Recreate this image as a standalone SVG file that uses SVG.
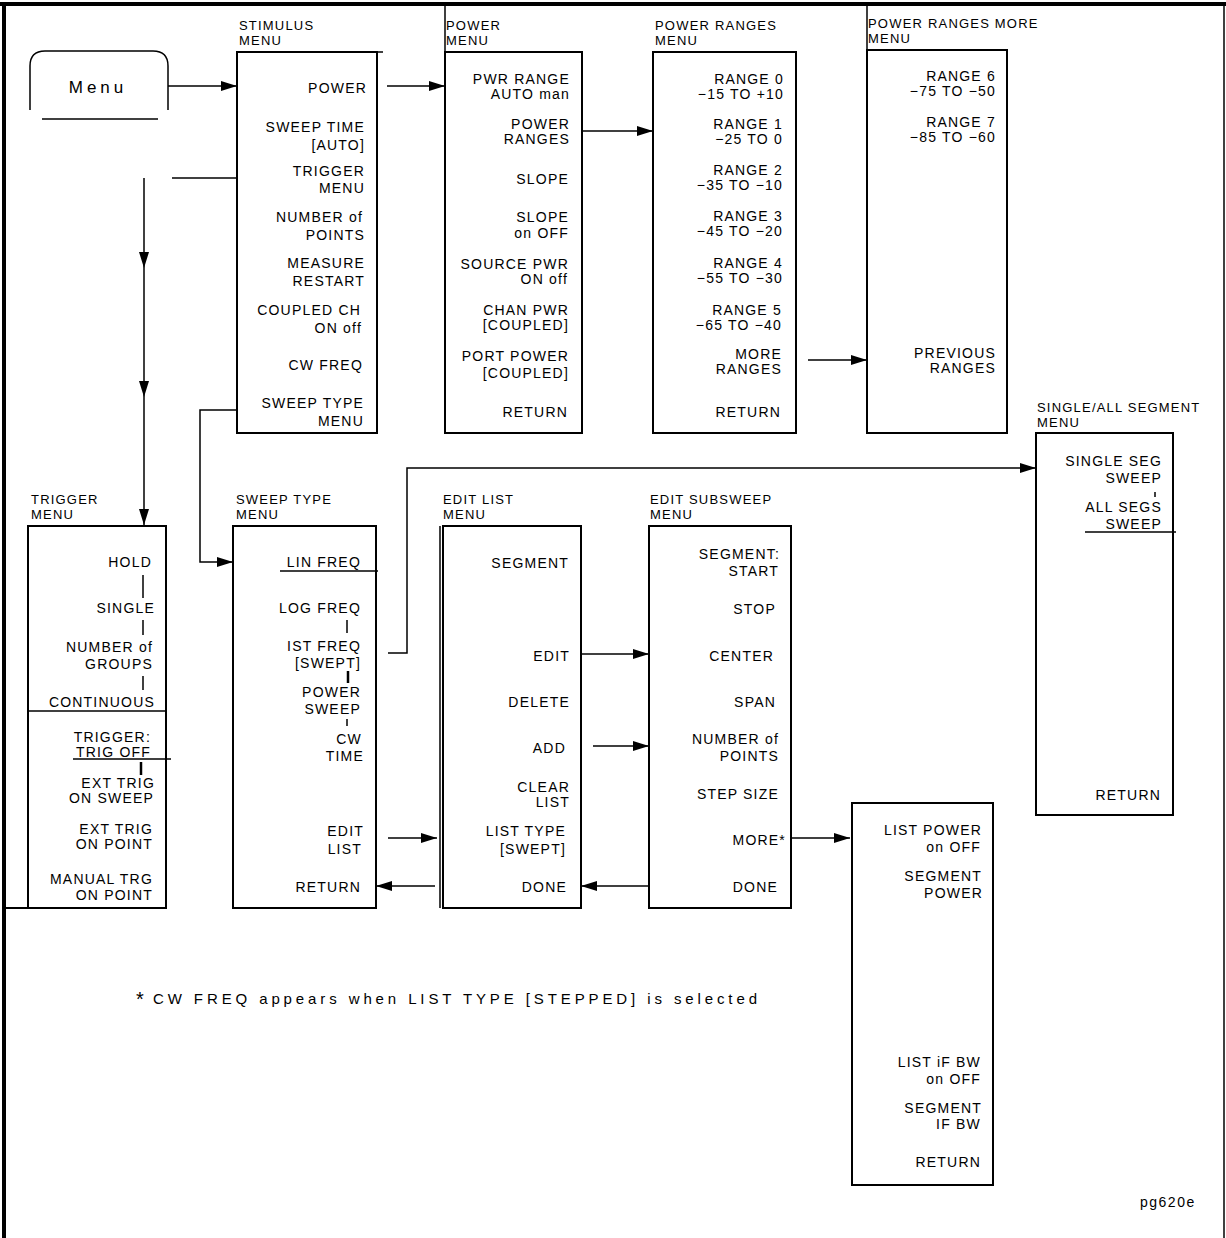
<svg xmlns="http://www.w3.org/2000/svg" width="1226" height="1238" viewBox="0 0 1226 1238">
<style>
.t{font-family:"Liberation Sans",Arial,sans-serif;font-size:14px;letter-spacing:1.2px;text-anchor:end;fill:#000}
.h{font-family:"Liberation Sans",Arial,sans-serif;font-size:13px;letter-spacing:1.2px;fill:#000}
.box{fill:none;stroke:#000;stroke-width:2}
.ln{fill:none;stroke:#000;stroke-width:1.5}
.c{fill:none;stroke:#000;stroke-width:1.5}
.ca{fill:none;stroke:#000;stroke-width:1.5;marker-end:url(#ah)}
</style>
<defs>
<marker id="ah" viewBox="0 0 16 10" refX="16" refY="5" markerWidth="16" markerHeight="10" markerUnits="userSpaceOnUse" orient="auto">
<path d="M0,0 L16,5 L0,10 z" fill="#000"/>
</marker>
</defs>
<rect width="1226" height="1238" fill="#fff"/>
<g id="frame">
<line x1="0" y1="4" x2="1226" y2="4" stroke="#000" stroke-width="4"/>
<line x1="4" y1="2" x2="4" y2="1238" stroke="#000" stroke-width="4"/>
<line x1="1224" y1="4" x2="1224" y2="1238" stroke="#000" stroke-width="1.5"/>
</g>
<g id="menu-key">
<path class="ln" d="M30,110 V66 Q30,51 45,51 H153 Q168,51 168,66 V110"/>
<line class="ln" x1="42" y1="119" x2="158" y2="119"/>
<text x="98" y="93" style="font-family:'Liberation Sans',Arial,sans-serif;font-size:17px;letter-spacing:4px;text-anchor:middle">Menu</text>
</g>
<g id="stimulus-menu">
<text class="h" x="239" y="30">STIMULUS</text>
<text class="h" x="239" y="45">MENU</text>
<rect class="box" x="237" y="52" width="140" height="381"/>
<line class="ln" x1="377" y1="52" x2="383" y2="52"/>
<text class="t" x="367" y="93">POWER</text>
<text class="t" x="365" y="132">SWEEP TIME</text>
<text class="t" x="365" y="150">[AUTO]</text>
<text class="t" x="365" y="176">TRIGGER</text>
<text class="t" x="365" y="193">MENU</text>
<text class="t" x="363" y="222">NUMBER of</text>
<text class="t" x="365" y="240">POINTS</text>
<text class="t" x="365" y="268">MEASURE</text>
<text class="t" x="365" y="286">RESTART</text>
<text class="t" x="361" y="315">COUPLED CH</text>
<text class="t" x="362" y="333">ON off</text>
<text class="t" x="363" y="370">CW FREQ</text>
<text class="t" x="364" y="408">SWEEP TYPE</text>
<text class="t" x="364" y="426">MENU</text>
</g>
<g id="power-menu">
<line class="ln" x1="445" y1="4" x2="445" y2="52"/>
<text class="h" x="446" y="30">POWER</text>
<text class="h" x="446" y="45">MENU</text>
<rect class="box" x="445" y="52" width="137" height="381"/>
<text class="t" x="570" y="84">PWR RANGE</text>
<text class="t" x="570" y="99">AUTO man</text>
<text class="t" x="570" y="129">POWER</text>
<text class="t" x="570" y="144">RANGES</text>
<text class="t" x="569" y="184">SLOPE</text>
<text class="t" x="569" y="222">SLOPE</text>
<text class="t" x="569" y="238">on OFF</text>
<text class="t" x="569" y="269">SOURCE PWR</text>
<text class="t" x="568" y="284">ON off</text>
<text class="t" x="569" y="315">CHAN PWR</text>
<text class="t" x="569" y="330">[COUPLED]</text>
<text class="t" x="569" y="361">PORT POWER</text>
<text class="t" x="569" y="378">[COUPLED]</text>
<text class="t" x="568" y="417">RETURN</text>
</g>
<g id="power-ranges-menu">
<text class="h" x="655" y="30">POWER RANGES</text>
<text class="h" x="655" y="45">MENU</text>
<rect class="box" x="653" y="52" width="143" height="381"/>
<text class="t" x="784" y="84">RANGE 0</text>
<text class="t" x="784" y="99">−15 TO +10</text>
<text class="t" x="783" y="129">RANGE 1</text>
<text class="t" x="783" y="144">−25 TO 0</text>
<text class="t" x="783" y="175">RANGE 2</text>
<text class="t" x="783" y="190">−35 TO −10</text>
<text class="t" x="783" y="221">RANGE 3</text>
<text class="t" x="783" y="236">−45 TO −20</text>
<text class="t" x="783" y="268">RANGE 4</text>
<text class="t" x="783" y="283">−55 TO −30</text>
<text class="t" x="782" y="315">RANGE 5</text>
<text class="t" x="782" y="330">−65 TO −40</text>
<text class="t" x="782" y="359">MORE</text>
<text class="t" x="782" y="374">RANGES</text>
<text class="t" x="781" y="417">RETURN</text>
</g>
<g id="power-ranges-more-menu">
<line class="ln" x1="867" y1="4" x2="867" y2="50"/>
<text class="h" x="868" y="28">POWER RANGES MORE</text>
<text class="h" x="868" y="43">MENU</text>
<rect class="box" x="867" y="50" width="140" height="383"/>
<text class="t" x="996" y="81">RANGE 6</text>
<text class="t" x="996" y="96">−75 TO −50</text>
<text class="t" x="996" y="127">RANGE 7</text>
<text class="t" x="996" y="142">−85 TO −60</text>
<text class="t" x="996" y="358">PREVIOUS</text>
<text class="t" x="996" y="373">RANGES</text>
</g>
<g id="single-all-segment-menu">
<text class="h" x="1037" y="412">SINGLE/ALL SEGMENT</text>
<text class="h" x="1037" y="427">MENU</text>
<rect class="box" x="1036" y="433" width="137" height="382"/>
<text class="t" x="1162" y="466">SINGLE SEG</text>
<text class="t" x="1162" y="483">SWEEP</text>
<line class="ln" x1="1155" y1="492" x2="1155" y2="497"/>
<text class="t" x="1162" y="512">ALL SEGS</text>
<text class="t" x="1162" y="529">SWEEP</text>
<line class="ln" x1="1085" y1="532" x2="1176" y2="532"/>
<text class="t" x="1161" y="800">RETURN</text>
</g>
<g id="trigger-menu">
<text class="h" x="31" y="504">TRIGGER</text>
<text class="h" x="31" y="519">MENU</text>
<rect class="box" x="28" y="526" width="138" height="382"/>
<line class="box" x1="4" y1="908" x2="28" y2="908"/>
<line class="ln" x1="28" y1="711" x2="167" y2="711"/>
<text class="t" x="152" y="567">HOLD</text>
<line class="ln" x1="143" y1="575" x2="143" y2="598"/>
<text class="t" x="155" y="613">SINGLE</text>
<line class="ln" x1="143" y1="620" x2="143" y2="635"/>
<text class="t" x="153" y="652">NUMBER of</text>
<text class="t" x="153" y="669">GROUPS</text>
<line class="ln" x1="143" y1="676" x2="143" y2="690"/>
<text class="t" x="155" y="707">CONTINUOUS</text>
<text class="t" x="151" y="742">TRIGGER:</text>
<text class="t" x="151" y="757">TRIG OFF</text>
<line class="ln" x1="73" y1="759" x2="171" y2="759"/>
<line x1="141" y1="762" x2="141" y2="775" stroke="#000" stroke-width="2.5"/>
<text class="t" x="155" y="788">EXT TRIG</text>
<text class="t" x="154" y="803">ON SWEEP</text>
<text class="t" x="153" y="834">EXT TRIG</text>
<text class="t" x="153" y="849">ON POINT</text>
<text class="t" x="153" y="884">MANUAL TRG</text>
<text class="t" x="153" y="900">ON POINT</text>
</g>
<g id="sweep-type-menu">
<text class="h" x="236" y="504">SWEEP TYPE</text>
<text class="h" x="236" y="519">MENU</text>
<rect class="box" x="233" y="526" width="143" height="382"/>
<text class="t" x="361" y="567">LIN FREQ</text>
<line class="ln" x1="280" y1="571" x2="378" y2="571"/>
<text class="t" x="361" y="613">LOG FREQ</text>
<line class="ln" x1="347" y1="620" x2="347" y2="633"/>
<text class="t" x="361" y="651">IST FREQ</text>
<text class="t" x="361" y="668">[SWEPT]</text>
<line x1="348" y1="671" x2="348" y2="683" stroke="#000" stroke-width="2.5"/>
<text class="t" x="361" y="697">POWER</text>
<text class="t" x="361" y="714">SWEEP</text>
<line class="ln" x1="347" y1="719" x2="347" y2="726"/>
<text class="t" x="362" y="744">CW</text>
<text class="t" x="364" y="761">TIME</text>
<text class="t" x="364" y="836">EDIT</text>
<text class="t" x="362" y="854">LIST</text>
<text class="t" x="361" y="892">RETURN</text>
</g>
<g id="edit-list-menu">
<text class="h" x="443" y="504">EDIT LIST</text>
<text class="h" x="443" y="519">MENU</text>
<rect class="box" x="443" y="526" width="138" height="382"/>
<line class="ln" x1="440" y1="526" x2="440" y2="908"/>
<text class="t" x="569" y="568">SEGMENT</text>
<text class="t" x="570" y="661">EDIT</text>
<text class="t" x="570" y="707">DELETE</text>
<text class="t" x="566" y="753">ADD</text>
<text class="t" x="570" y="792">CLEAR</text>
<text class="t" x="570" y="807">LIST</text>
<text class="t" x="566" y="836">LIST TYPE</text>
<text class="t" x="566" y="854">[SWEPT]</text>
<text class="t" x="567" y="892">DONE</text>
</g>
<g id="edit-subsweep-menu">
<text class="h" x="650" y="504">EDIT SUBSWEEP</text>
<text class="h" x="650" y="519">MENU</text>
<rect class="box" x="649" y="526" width="142" height="382"/>
<text class="t" x="780" y="559">SEGMENT:</text>
<text class="t" x="779" y="576">START</text>
<text class="t" x="776" y="614">STOP</text>
<text class="t" x="774" y="661">CENTER</text>
<text class="t" x="776" y="707">SPAN</text>
<text class="t" x="779" y="744">NUMBER of</text>
<text class="t" x="779" y="761">POINTS</text>
<text class="t" x="779" y="799">STEP SIZE</text>
<text class="t" x="786" y="845">MORE*</text>
<text class="t" x="778" y="892">DONE</text>
</g>
<g id="list-power-menu">
<rect class="box" x="852" y="803" width="141" height="382"/>
<text class="t" x="982" y="835">LIST POWER</text>
<text class="t" x="981" y="852">on OFF</text>
<text class="t" x="982" y="881">SEGMENT</text>
<text class="t" x="983" y="898">POWER</text>
<text class="t" x="981" y="1067">LIST iF BW</text>
<text class="t" x="981" y="1084">on OFF</text>
<text class="t" x="982" y="1113">SEGMENT</text>
<text class="t" x="981" y="1129">IF BW</text>
<text class="t" x="981" y="1167">RETURN</text>
</g>
<g id="connectors">
<path class="ca" d="M168,86 H237"/>
<path class="ca" d="M387,86 H445"/>
<path class="ca" d="M582,131 H653"/>
<path class="ca" d="M808,360 H867"/>
<path class="c" d="M172,178 H237"/>
<path class="ca" d="M144,178 V268"/>
<path class="ca" d="M144,268 V397"/>
<path class="ca" d="M144,397 V525"/>
<path class="ca" d="M237,410 H200 V562 H233"/>
<path class="ca" d="M388,653 H407 V468 H1036"/>
<path class="ca" d="M388,838 H437"/>
<path class="ca" d="M435,886 H376"/>
<path class="ca" d="M581,654 H649"/>
<path class="ca" d="M593,746 H649"/>
<path class="ca" d="M649,886 H581"/>
<path class="ca" d="M791,838 H850"/>
</g>
<g id="notes">
<text x="136" y="1006" style="font-family:'Liberation Sans',Arial,sans-serif;font-size:20px;fill:#000">*</text>
<text x="153" y="1004" textLength="604" lengthAdjust="spacing" style="font-family:'Liberation Sans',Arial,sans-serif;font-size:15px;fill:#000">CW FREQ appears when LIST TYPE [STEPPED] is selected</text>
<text x="1140" y="1207" style="font-family:'Liberation Sans',Arial,sans-serif;font-size:14px;letter-spacing:1.5px;fill:#000">pg620e</text>
</g>
</svg>
